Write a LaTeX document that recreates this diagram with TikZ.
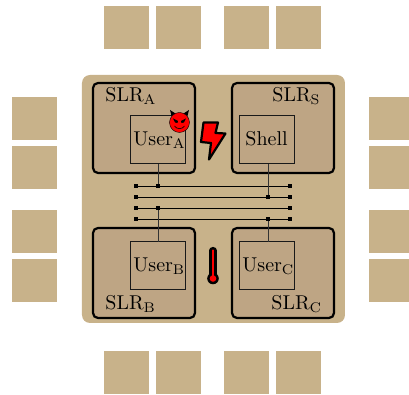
\documentclass[tikz,border=0pt]{standalone}
\definecolor{pad}{HTML}{C8B28A}
\definecolor{slrfill}{HTML}{BEA584}
\begin{document}
\begin{tikzpicture}[x=0.5pt,y=-0.5pt,
  padbox/.style={fill=pad,draw=none,minimum width=22.5pt,minimum height=21.5pt,inner sep=0pt,outer sep=0pt,anchor=north west},
  slrbox/.style={fill=slrfill,draw=black,line width=1.1pt,rounded corners=2.5pt,minimum width=51pt,minimum height=45pt,inner sep=0pt,outer sep=0pt,anchor=north west},
  userbox/.style={fill=slrfill,draw=black!90,line width=0.5pt,minimum width=27.5pt,minimum height=24pt,inner sep=0pt,outer sep=0pt,anchor=north west},
  busdot/.style={fill=black,draw=none,minimum size=2pt,inner sep=0pt,outer sep=0pt},
  busline/.style={line width=0.45pt,draw=black},
  tap/.style={line width=0.45pt,draw=black!80},
  lab/.style={inner sep=0pt,anchor=base west}]
\useasboundingbox (0,0) rectangle (409,395);
\clip (0,0) rectangle (409,395);
% pads
\foreach \n/\x in {a/104,b/156,c/224,d/276}{
  \node[padbox] (top\n) at (\x,6) {};
  \node[padbox] (bot\n) at (\x,351) {};
}
\foreach \n/\y in {a/97,b/146,c/210,d/259}{
  \node[padbox] (left\n) at (12,\y) {};
  \node[padbox] (right\n) at (369,\y) {};
}
% die
\node[fill=pad,draw=none,rounded corners=4pt,minimum width=131.5pt,minimum height=124pt,inner sep=0pt,outer sep=0pt,anchor=north west] (die) at (82,75) {};
% SLRs
\node[slrbox] (slra) at (93,83) {};
\node[slrbox] (slrs) at (232,83) {};
\node[slrbox] (slrb) at (93,228) {};
\node[slrbox] (slrc) at (232,228) {};
\node[lab] (la) at (105,102) {SLR$_{\mathrm{A}}$};
\node[lab] (ls) at (272,102) {SLR$_{\mathrm{S}}$};
\node[lab] (lb) at (105,310) {SLR$_{\mathrm{B}}$};
\node[lab] (lc) at (271,310) {SLR$_{\mathrm{C}}$};
% user regions
\node[userbox] (usera) at (131,116) {};
\node[userbox] (shell) at (240,116) {};
\node[userbox] (userb) at (131,242) {};
\node[userbox] (userc) at (240,242) {};
\node[lab] at (133,146) {User$_{\mathrm{A}}$};
\node[lab] at (245,146) {Shell};
\node[lab] at (133,272) {User$_{\mathrm{B}}$};
\node[lab] at (242,272) {User$_{\mathrm{C}}$};
% bus
\foreach \n/\y in {1/186,2/197,3/208,4/219}{
  \node[busdot] (l\n) at (136,\y) {};
  \node[busdot] (r\n) at (290,\y) {};
  \draw[busline] (l\n) -- (r\n);
}
\node[busdot] (t1) at (158,186) {};
\node[busdot] (t2) at (268,197) {};
\node[busdot] (t3) at (158,208) {};
\node[busdot] (t4) at (268,219) {};
\coordinate (ua) at (158,164);
\coordinate (us) at (268,164);
\coordinate (ub) at (158,242);
\coordinate (uc) at (268,242);
\draw[tap] (ua) -- (t1);
\draw[tap] (us) -- (t2);
\draw[tap] (ub) -- (t3);
\draw[tap] (uc) -- (t4);
% devil
\fill[black] (171.5,116) -- (170,110) -- (175.5,113.5) -- cycle;
\fill[black] (187.5,116) -- (189,110) -- (183.5,113.5) -- cycle;
\node[circle,fill=red,draw=black,line width=0.2pt,minimum size=10pt,inner sep=0pt,outer sep=0pt] (devil) at (179.5,122.5) {};
\fill[black] (173,118.5) -- (178,121) -- (177.5,123) -- (175,122.5) -- cycle;
\fill[black] (186,118.5) -- (181,121) -- (181.5,123) -- (184,122.5) -- cycle;
\draw[black,line width=0.3pt] (174.5,126) .. controls (176.5,129.5) and (182.5,129.5) .. (184.5,126);
% lightning
\draw[fill=red,draw=black,line width=1.1pt,line join=round]
  (203.5,122.5) -- (218,122.5) -- (215.5,133) -- (225.5,133.5) -- (209,159.5) -- (211,143) -- (201,142) -- cycle;
% thermometer
\draw[black,line width=3.6pt,line cap=round] (213,250.5) -- (213,276);
\fill[black] (213,278.5) circle (5.8);
\draw[red,line width=1.1pt,line cap=round] (213,250.5) -- (213,276);
\fill[red] (213,278.5) circle (3.3);
\end{tikzpicture}
\end{document}
